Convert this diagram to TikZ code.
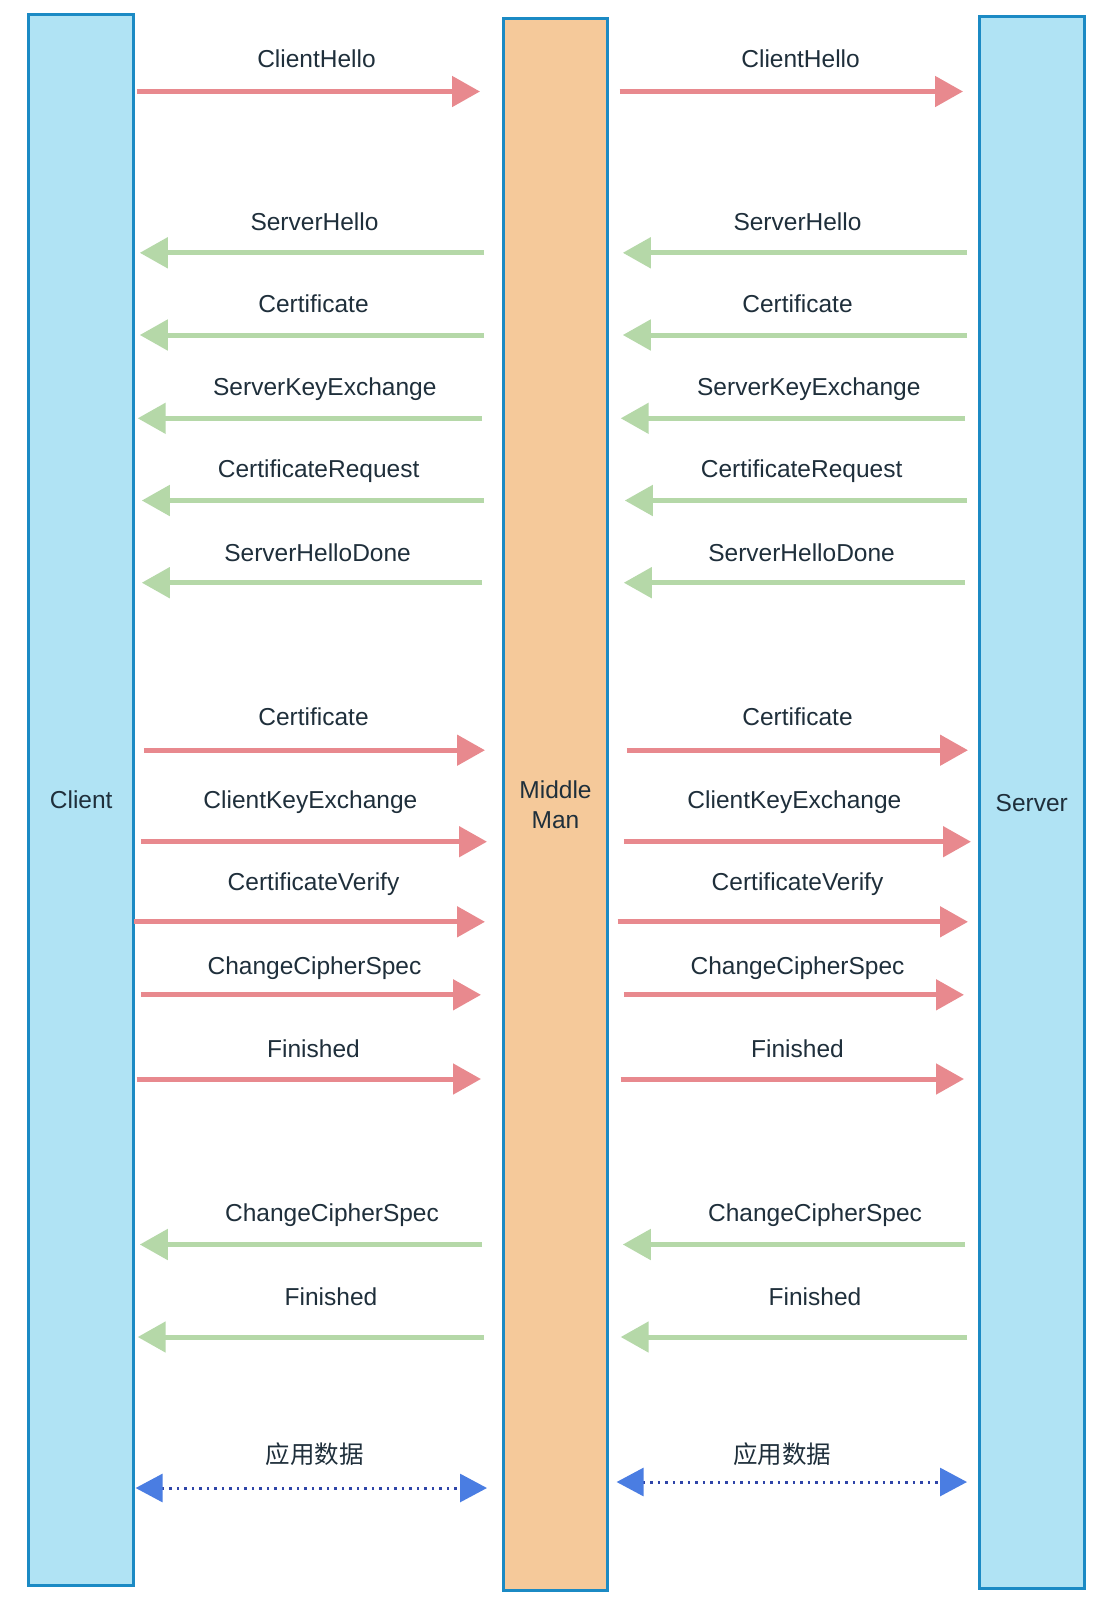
\documentclass[tikz,border=0pt]{standalone}
\usepackage{fontspec}
\setmainfont{Liberation Sans}
\newfontfamily\cjk{Noto Sans CJK SC}
\usetikzlibrary{arrows.meta}
\definecolor{boxblue}{HTML}{B0E3F4}
\definecolor{boxedge}{HTML}{1B8AC4}
\definecolor{midfill}{HTML}{F5C99A}
\definecolor{redarr}{HTML}{E8898E}
\definecolor{greenarr}{HTML}{B5D8A8}
\definecolor{bluearr}{HTML}{4A7DE2}
\definecolor{dotblue}{HTML}{2F45A8}
\definecolor{txt}{HTML}{1F2F3B}
\newcommand\tlsmsg[8]{%
  \coordinate (#1a) at (#3,#2);
  \coordinate (#1b) at (#4,#2);
  \draw[#5] (#1a) -- (#1b);
  \node[lbl] (#1t) at (#6,#7+9) {#8};
}
\begin{document}
\begin{tikzpicture}[x=1pt,y=-1pt,
  lane/.style={draw=boxedge, line width=3pt, inner sep=0pt,
    font=\fontsize{24.5}{30}\selectfont, text=txt, align=center},
  lbl/.style={font=\fontsize{24.5}{30}\selectfont, text=txt, inner sep=0pt, anchor=base},
  fwd/.style={draw=redarr, line width=5pt, -{Triangle[length=28pt,width=30pt]}},
  bwd/.style={draw=greenarr, line width=5pt, -{Triangle[length=28pt,width=30pt]}},
  appdata/.style={draw=dotblue, line width=3pt, dash pattern=on 2.5pt off 5pt,
    {Triangle[length=27pt,width=28pt,fill=bluearr,color=bluearr]}-{Triangle[length=27pt,width=28pt,fill=bluearr,color=bluearr]}}
]
\fill[white] (0,0) rectangle (1112,1612);
\useasboundingbox (0,0) rectangle (1112,1612);

% lanes
\node[lane, fill=boxblue, minimum width=104.8pt, minimum height=1571.3pt] (client) at (81.2,800) {Client};
\node[lane, fill=midfill, minimum width=103.8pt, minimum height=1572.4pt] (mid) at (555.5,804.7) {Middle\\Man};
\node[lane, fill=boxblue, minimum width=104.8pt, minimum height=1572.4pt] (server) at (1031.8,802.6) {Server};

% left side
\tlsmsg{L1}{91.5}{136.7}{480}{fwd}{316.5}{58.6}{ClientHello}
\tlsmsg{L2}{252.8}{484}{139.8}{bwd}{314.5}{221}{ServerHello}
\tlsmsg{L3}{335}{484}{139.8}{bwd}{313.5}{303}{Certificate}
\tlsmsg{L4}{418.3}{482}{137.7}{bwd}{324.8}{386.4}{ServerKeyExchange}
\tlsmsg{L5}{500.5}{484}{141.8}{bwd}{318.6}{468.6}{CertificateRequest}
\tlsmsg{L6}{582.7}{482}{141.8}{bwd}{317.6}{552}{ServerHelloDone}
\tlsmsg{L7}{750.2}{143.9}{485}{fwd}{313.5}{716.3}{Certificate}
\tlsmsg{L8}{841.7}{140.8}{487}{fwd}{310.4}{799.5}{ClientKeyExchange}
\tlsmsg{L9}{921.8}{133.6}{485}{fwd}{313.5}{881.8}{CertificateVerify}
\tlsmsg{L10}{994.8}{140.8}{481}{fwd}{314.5}{965}{ChangeCipherSpec}
\tlsmsg{L11}{1079}{136.7}{481}{fwd}{313.5}{1048.3}{Finished}
\tlsmsg{L12}{1244.5}{482}{139.8}{bwd}{332}{1212.7}{ChangeCipherSpec}
\tlsmsg{L13}{1337}{484}{137.7}{bwd}{331}{1296}{Finished}
\tlsmsg{L14}{1488}{135.6}{487}{appdata}{314.5}{1454}{\cjk 应用数据}

% right side
\tlsmsg{R1}{91.5}{619.7}{963}{fwd}{800.6}{58.6}{ClientHello}
\tlsmsg{R2}{252.8}{967}{622.8}{bwd}{797.5}{221}{ServerHello}
\tlsmsg{R3}{335}{967}{622.8}{bwd}{797.5}{303}{Certificate}
\tlsmsg{R4}{418.3}{965}{620.7}{bwd}{808.8}{386.4}{ServerKeyExchange}
\tlsmsg{R5}{500.5}{967}{624.8}{bwd}{801.6}{468.6}{CertificateRequest}
\tlsmsg{R6}{582.7}{965}{623.8}{bwd}{801.6}{552}{ServerHelloDone}
\tlsmsg{R7}{750.2}{626.9}{968}{fwd}{797.5}{716.3}{Certificate}
\tlsmsg{R8}{841.7}{623.8}{971}{fwd}{794.4}{799.5}{ClientKeyExchange}
\tlsmsg{R9}{921.8}{617.6}{968}{fwd}{797.5}{881.8}{CertificateVerify}
\tlsmsg{R10}{994.8}{623.8}{964}{fwd}{797.5}{965}{ChangeCipherSpec}
\tlsmsg{R11}{1079}{620.7}{964}{fwd}{797.5}{1048.3}{Finished}
\tlsmsg{R12}{1244.5}{965}{622.8}{bwd}{815}{1212.7}{ChangeCipherSpec}
\tlsmsg{R13}{1337}{967}{620.7}{bwd}{815}{1296}{Finished}
\tlsmsg{R14}{1482}{616.6}{967}{appdata}{782}{1454}{\cjk 应用数据}
\end{tikzpicture}
\end{document}
